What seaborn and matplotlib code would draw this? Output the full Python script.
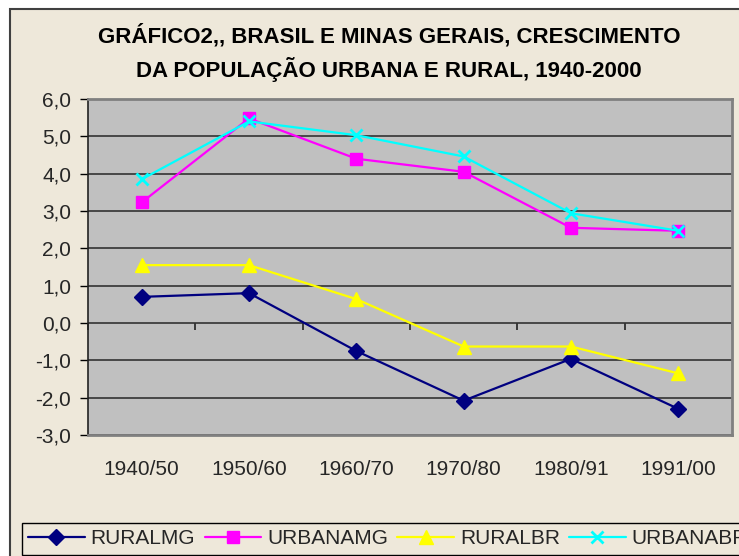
"""
Gráfico 2 - Brasil e Minas Gerais: crescimento da população urbana e rural, 1940-2000
"""

import pandas as pd
import matplotlib
matplotlib.use("Agg")
import matplotlib.pyplot as plt
import matplotlib.ticker as mticker
from matplotlib.patches import Rectangle
import seaborn as sns

# ====== dados (taxas de crescimento, % a.a.) ======
periodos = ["1940/50", "1950/60", "1960/70", "1970/80", "1980/91", "1991/00"]
rural_mg = [0.70, 0.80, -0.75, -2.08, -0.96, -2.30]
urbana_mg = [3.23, 5.48, 4.40, 4.05, 2.55, 2.47]
rural_br = [1.55, 1.55, 0.64, -0.63, -0.63, -1.35]
urbana_br = [3.85, 5.40, 5.03, 4.46, 2.94, 2.47]
series = ["RURALMG", "URBANAMG", "RURALBR", "URBANABR"]
y_ticks = [-3, -2, -1, 0, 1, 2, 3, 4, 5, 6]

# ====== estilo ======
sns.set_theme(style="white")
plt.rcParams["font.family"] = ["Liberation Sans", "DejaVu Sans"]

BEGE = "#EEE8DA"
CINZA = "#C0C0C0"
estilos = {
    "RURALMG": dict(color="#000080", marker="D", markersize=8),
    "URBANAMG": dict(color="#FF00FF", marker="s", markersize=8.5),
    "RURALBR": dict(color="#FFFF00", marker="^", markersize=10),
    "URBANABR": dict(color="#00FFFF", marker="x", markersize=9, markeredgewidth=2),
}

df = pd.DataFrame({
    "periodo": periodos * 4,
    "valor": rural_mg + urbana_mg + rural_br + urbana_br,
    "serie": [s for s in series for _ in periodos],
})

fig = plt.figure(figsize=(7.39, 5.56), dpi=100, facecolor="white")
fig.add_artist(Rectangle((9.5 / 739, -0.1), 1.2, 1.1 - 9 / 556,
                         transform=fig.transFigure, facecolor=BEGE,
                         edgecolor="#404040", linewidth=1.5, zorder=-1))

ax = fig.add_axes([88 / 739, 1 - 435 / 556, (732 - 88) / 739, 336 / 556])
ax.set_facecolor(CINZA)

for nome, grupo in df.groupby("serie", sort=False):
    st = estilos[nome]
    sns.lineplot(data=grupo, x="periodo", y="valor", ax=ax, label=nome,
                 color=st["color"], marker=st["marker"],
                 markersize=st["markersize"], markeredgecolor=st["color"],
                 markeredgewidth=st.get("markeredgewidth", 1),
                 linewidth=1.6, sort=False, zorder=3)

ax.set_xlim(-0.5, len(periodos) - 0.5)
ax.set_ylim(min(y_ticks), max(y_ticks))
ax.set_yticks(y_ticks)
ax.yaxis.set_major_formatter(mticker.FuncFormatter(lambda v, _: f"{v:.1f}".replace(".", ",")))
ax.grid(axis="y", color="#333333", linewidth=1.2)
ax.set_axisbelow(True)
ax.set_xlabel("")
ax.set_ylabel("")
ax.tick_params(axis="y", direction="out", length=6, width=1, color="black",
               pad=6, labelsize=15, left=True)
ax.tick_params(axis="x", length=0, pad=18, labelsize=15)
for lado in ["top", "right", "bottom"]:
    ax.spines[lado].set_color("#808080")
    ax.spines[lado].set_linewidth(2)
ax.spines["left"].set_color("#222222")
ax.spines["left"].set_linewidth(1.2)

# eixo das categorias cruzando em 0
zero = (0 - min(y_ticks)) / (max(y_ticks) - min(y_ticks))
sec = ax.secondary_xaxis(zero)
sec.set_xticks([i + 0.5 for i in range(-1, len(periodos))])
sec.tick_params(direction="out", length=5, width=1.2, color="#222222",
                labelbottom=False, labeltop=False, bottom=True, top=False)
sec.spines["bottom"].set_visible(False)
sec.spines["top"].set_visible(False)

ax.legend_.remove()
handles, labels = ax.get_legend_handles_labels()
fig.legend(handles, labels, loc="upper left", ncol=4,
           bbox_to_anchor=(22 / 739, 1 - 523 / 556), fontsize=15,
           frameon=True, fancybox=False, edgecolor="black", facecolor=BEGE,
           framealpha=1, handlelength=2.7, handletextpad=0.3,
           columnspacing=0.45, borderpad=0.3, borderaxespad=0)

fig.text(389 / 739, 1 - 53 / 556,
         "GRÁFICO2,, BRASIL E MINAS GERAIS, CRESCIMENTO\nDA POPULAÇÃO URBANA E RURAL, 1940-2000",
         ha="center", va="center", fontsize=16, fontweight="bold",
         linespacing=1.45, color="black")

fig.savefig("out.png", dpi=100, facecolor=fig.get_facecolor())
